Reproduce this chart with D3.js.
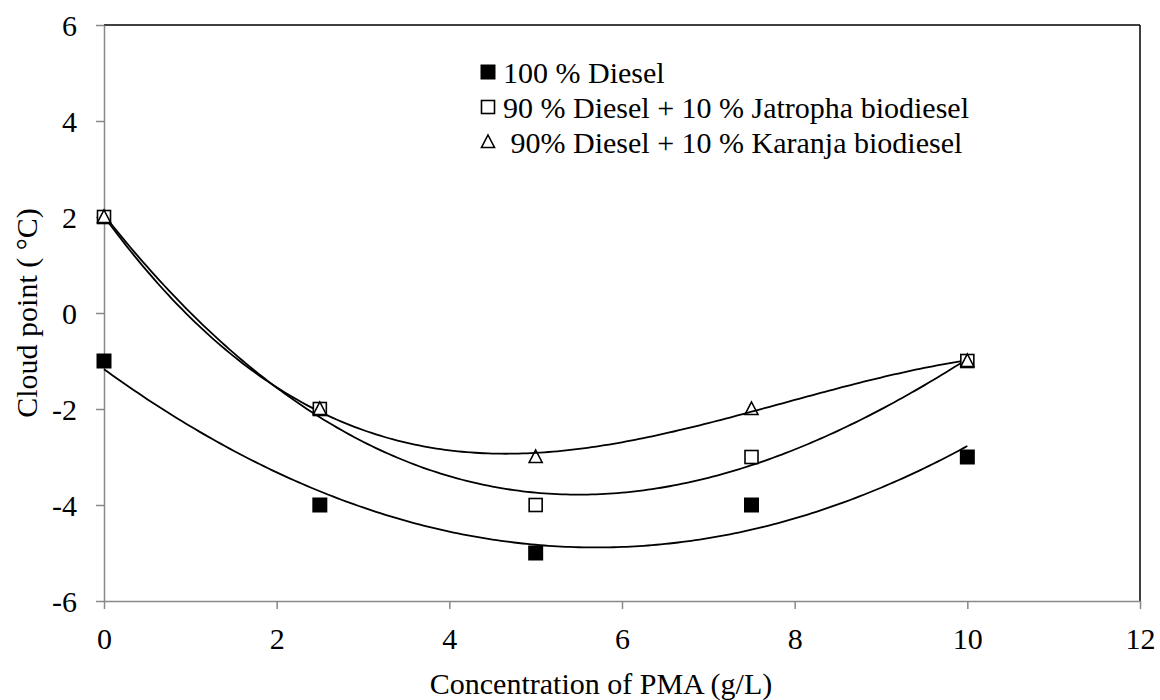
<!DOCTYPE html>
<html>
<head>
<meta charset="utf-8">
<script src="https://cdn.jsdelivr.net/npm/d3@7"></script>
</head>
<body style="margin:0">
<svg id="chart" width="1160" height="700" font-family="Liberation Serif"></svg>
<script>
// Cloud point vs PMA concentration
const concentrations = [0, 2.5, 5, 7.5, 10];
const diesel = [-1, -4, -5, -4, -3];
const jatropha = [2, -2, -4, -3, -1];
const karanja = [2, -2, -3, -2, -1];
const seriesNames = ['100 % Diesel', '90 % Diesel + 10 % Jatropha biodiesel', ' 90% Diesel + 10 % Karanja biodiesel'];
const xTicks = [0, 2, 4, 6, 8, 10, 12];
const yTicks = [-6, -4, -2, 0, 2, 4, 6];

const series = [
  { name: seriesNames[0], values: diesel, marker: 'filledSquare', degree: 2 },
  { name: seriesNames[1], values: jatropha, marker: 'openSquare', degree: 3 },
  { name: seriesNames[2], values: karanja, marker: 'triangle', degree: 3 }
];

const svg = d3.select('#chart');
const plot = { left: 104, right: 1140, top: 25, bottom: 601 };
const fontSize = 30;

const x = d3.scaleLinear().domain([0, 12]).range([plot.left, plot.right]);
const y = d3.scaleLinear().domain([-6, 6]).range([plot.bottom, plot.top]);

// least-squares polynomial (Excel-style trendline)
function polyFit(xs, ys, deg) {
  const n = deg + 1;
  const A = Array.from({ length: n }, () => new Array(n + 1).fill(0));
  for (let r = 0; r < n; r++) {
    for (let c = 0; c < n; c++) A[r][c] = d3.sum(xs, v => Math.pow(v, r + c));
    A[r][n] = d3.sum(xs, (v, i) => Math.pow(v, r) * ys[i]);
  }
  for (let i = 0; i < n; i++) {
    let p = i;
    for (let k = i + 1; k < n; k++) if (Math.abs(A[k][i]) > Math.abs(A[p][i])) p = k;
    [A[i], A[p]] = [A[p], A[i]];
    for (let k = i + 1; k < n; k++) {
      const f = A[k][i] / A[i][i];
      for (let j = i; j <= n; j++) A[k][j] -= f * A[i][j];
    }
  }
  const coef = new Array(n).fill(0);
  for (let i = n - 1; i >= 0; i--) {
    let s = A[i][n];
    for (let j = i + 1; j < n; j++) s -= A[i][j] * coef[j];
    coef[i] = s / A[i][i];
  }
  return v => coef.reduce((acc, c, i) => acc + c * Math.pow(v, i), 0);
}

// frame: top/right black, left/bottom gray axes
svg.append('line').attr('x1', plot.left).attr('x2', plot.right).attr('y1', plot.top).attr('y2', plot.top)
  .attr('stroke', '#000').attr('stroke-width', 1.5);
svg.append('line').attr('x1', plot.right).attr('x2', plot.right).attr('y1', plot.top).attr('y2', plot.bottom)
  .attr('stroke', '#000').attr('stroke-width', 1.5);

const xAxis = svg.append('g').attr('transform', `translate(0,${plot.bottom})`)
  .call(d3.axisBottom(x).tickValues(xTicks).tickSize(8).tickPadding(19).tickSizeOuter(0));
const yAxis = svg.append('g').attr('transform', `translate(${plot.left},0)`)
  .call(d3.axisLeft(y).tickValues(yTicks).tickSize(8).tickPadding(19).tickSizeOuter(0)
    .tickFormat(d3.format('d')));

[xAxis, yAxis].forEach(a => {
  a.attr('font-family', 'Liberation Serif').attr('font-size', fontSize);
  a.select('.domain').attr('stroke', '#888').attr('stroke-width', 1.5);
  a.selectAll('.tick line').attr('stroke', '#888').attr('stroke-width', 1.5);
  a.selectAll('.tick text').attr('font-family', 'Liberation Serif').attr('font-size', fontSize).attr('fill', '#000');
});
yAxis.selectAll('.tick text').attr('dy', '0.35em').text(d => d < 0 ? '-' + Math.abs(d) : d);

// axis titles
svg.append('text').attr('x', 601).attr('y', 694)
  .attr('text-anchor', 'middle').attr('font-family', 'Liberation Serif').attr('font-size', fontSize)
  .text('Concentration of PMA (g/L)');
svg.append('text').attr('transform', `translate(37,${(plot.top + plot.bottom) / 2}) rotate(-90)`)
  .attr('text-anchor', 'middle').attr('font-family', 'Liberation Serif').attr('font-size', fontSize)
  .text('Cloud point ( °C)');

// trendlines
const line = d3.line().x(d => x(d[0])).y(d => y(d[1])).curve(d3.curveLinear);
series.forEach(s => {
  const f = polyFit(concentrations, s.values, s.degree);
  const pts = d3.range(0, 10.001, 0.05).map(v => [v, f(v)]);
  svg.append('path').datum(pts).attr('d', line)
    .attr('fill', 'none').attr('stroke', '#000').attr('stroke-width', 1.8);
});

function drawMarker(g, type, cx, cy) {
  if (type === 'filledSquare') {
    g.append('rect').attr('x', cx - 7.5).attr('y', cy - 7.5).attr('width', 15).attr('height', 15)
      .attr('fill', '#000');
  } else if (type === 'openSquare') {
    g.append('rect').attr('x', cx - 6.5).attr('y', cy - 6.5).attr('width', 13).attr('height', 13)
      .attr('fill', '#fff').attr('stroke', '#000').attr('stroke-width', 1.6);
  } else {
    g.append('path').attr('d', `M${cx},${cy - 7}L${cx + 6.5},${cy + 5.5}L${cx - 6.5},${cy + 5.5}Z`)
      .attr('fill', 'none').attr('stroke', '#000').attr('stroke-width', 1.6);
  }
}

// markers
const markG = svg.append('g');
series.forEach(s => {
  s.values.forEach((v, i) => drawMarker(markG, s.marker, x(concentrations[i]), y(v)));
});

// legend
const legend = svg.append('g');
series.forEach((s, i) => {
  const ly = 72 + i * 35;
  drawMarker(legend, s.marker, 488, ly);
  legend.append('text').attr('x', 503).attr('y', ly).attr('dy', '0.35em')
    .attr('font-family', 'Liberation Serif').attr('font-size', fontSize).style('white-space', 'pre')
    .text(s.name);
});
</script>
</body>
</html>
